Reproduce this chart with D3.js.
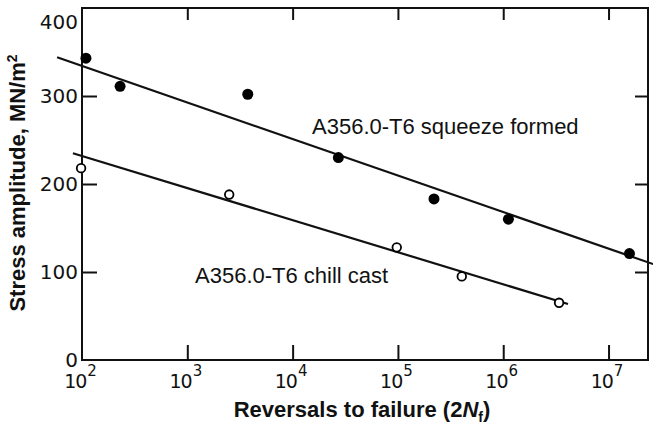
<!DOCTYPE html>
<html>
<head>
<meta charset="utf-8">
<script src="https://cdn.jsdelivr.net/npm/d3@7"></script>
<style>
  body { margin: 0; background: #fff; }
  svg { display: block; }
  .tick text { display: none; }
</style>
</head>
<body>
<div id="chart"></div>
<script>
// squeeze formed (filled dots)
const squeezeN = [109, 230, 3750, 27200, 220000, 1120000, 15800000];
const squeezeS = [343, 311, 302, 230, 183, 160, 121];
// chill cast (open dots)
const chillN = [98, 2500, 97500, 404000, 3390000];
const chillS = [218, 188, 128, 95, 65];
// fitted lines, end points
const squeezeFitN = [58, 26500000];
const squeezeFitS = [344, 109];
const chillFitN = [82, 4120000];
const chillFitS = [235, 63.6];

const xTicks = [1e2, 1e3, 1e4, 1e5, 1e6, 1e7];
const yTicks = [0, 100, 200, 300, 400];
const labels = ["A356.0-T6 squeeze formed", "A356.0-T6 chill cast"];

var width = 653, height = 427;
var svg = d3.select('#chart').append('svg')
    .attr('width', width).attr('height', height);

var x = d3.scaleLog().domain([100, 2.37e7]).range([82, 648]);
var y = d3.scaleLinear().domain([0, 400]).range([360, 8]);

var tickFont = "'DejaVu Sans', sans-serif";

// inward ticks on all four sides
svg.append("g").attr("transform", "translate(0,360)")
    .call(d3.axisBottom(x).tickValues(xTicks.slice(1)).tickSize(-15).tickFormat(""))
    .call(g => g.select(".domain").remove());
svg.append("g").attr("transform", "translate(0,8)")
    .call(d3.axisTop(x).tickValues(xTicks.slice(1)).tickSize(-12).tickFormat(""))
    .call(g => g.select(".domain").remove());
svg.append("g").attr("transform", "translate(82,0)")
    .call(d3.axisLeft(y).tickValues(yTicks.slice(1, 4)).tickSize(-15).tickFormat(""))
    .call(g => g.select(".domain").remove());
svg.append("g").attr("transform", "translate(648,0)")
    .call(d3.axisRight(y).tickValues(yTicks.slice(1, 4)).tickSize(-13).tickFormat(""))
    .call(g => g.select(".domain").remove());
svg.selectAll(".tick line").attr("stroke", "#111").attr("stroke-width", 2);

// frame
svg.append("rect")
    .attr("x", x(100)).attr("y", y(400))
    .attr("width", x.range()[1] - x(100)).attr("height", y(0) - y(400))
    .attr("fill", "none").attr("stroke", "#111").attr("stroke-width", 2);

// y tick labels
svg.append("g").selectAll("text")
    .data(yTicks).enter().append("text")
    .attr("x", 78)
    .attr("y", (d) => d === 400 ? y(d) + 14 : y(d))
    .attr("dy", "0.36em")
    .attr("text-anchor", "end")
    .style("font-family", tickFont).style("font-size", "20px")
    .attr("fill", "#111")
    .text((d) => d);

// x tick labels 10^n
var xl = svg.append("g").selectAll("text")
    .data(xTicks).enter().append("text")
    .attr("x", (d) => x(d) - 2)
    .attr("y", 388)
    .attr("text-anchor", "middle")
    .style("font-family", tickFont).style("font-size", "19px")
    .style("letter-spacing", "-1px")
    .attr("fill", "#111");
xl.append("tspan").text("10");
xl.append("tspan").attr("dy", -12).attr("dx", 1).style("font-size", "15px")
    .text((d) => Math.round(Math.log10(d)));

// axis titles
var xt = svg.append("text")
    .attr("x", 362).attr("y", 417)
    .attr("text-anchor", "middle")
    .style("font-family", "'Liberation Sans', Arial, sans-serif")
    .style("font-size", "22px").style("font-weight", "bold")
    .attr("fill", "#111");
xt.append("tspan").text("Reversals to failure (2");
xt.append("tspan").style("font-style", "italic").text("N");
xt.append("tspan").attr("dy", 5).style("font-size", "14px").text("f");
xt.append("tspan").attr("dy", -5).text(")");

var yt = svg.append("text")
    .attr("transform", "translate(25,183) rotate(-90)")
    .attr("text-anchor", "middle")
    .style("font-family", "'Liberation Sans', Arial, sans-serif")
    .style("font-size", "22px").style("font-weight", "bold")
    .attr("fill", "#111");
yt.append("tspan").text("Stress amplitude, MN/m");
yt.append("tspan").attr("dy", -8).style("font-size", "14px").text("2");

// fitted lines
var line = d3.line().x((d) => x(d[0])).y((d) => y(d[1]));
svg.append("path")
    .datum(d3.zip(squeezeFitN, squeezeFitS))
    .attr("d", line).attr("fill", "none")
    .attr("stroke", "#111").attr("stroke-width", 2.2);
svg.append("path")
    .datum(d3.zip(chillFitN, chillFitS))
    .attr("d", line).attr("fill", "none")
    .attr("stroke", "#111").attr("stroke-width", 2.2);

// points
svg.append("g").selectAll("circle")
    .data(d3.zip(squeezeN, squeezeS)).enter().append("circle")
    .attr("cx", (d) => x(d[0])).attr("cy", (d) => y(d[1]))
    .attr("r", 5.5).attr("fill", "#000");
svg.append("g").selectAll("circle")
    .data(d3.zip(chillN, chillS)).enter().append("circle")
    .attr("cx", (d) => x(d[0])).attr("cy", (d) => y(d[1]))
    .attr("r", 4.3).attr("fill", "#fff")
    .attr("stroke", "#000").attr("stroke-width", 1.8);

// curve labels
svg.append("text")
    .attr("x", 312).attr("y", 134)
    .style("font-family", "'Liberation Sans', Arial, sans-serif")
    .style("font-size", "22px").attr("fill", "#111")
    .text(labels[0]);
svg.append("text")
    .attr("x", 195).attr("y", 283)
    .style("font-family", "'Liberation Sans', Arial, sans-serif")
    .style("font-size", "22px").attr("fill", "#111")
    .text(labels[1]);
</script>
</body>
</html>
